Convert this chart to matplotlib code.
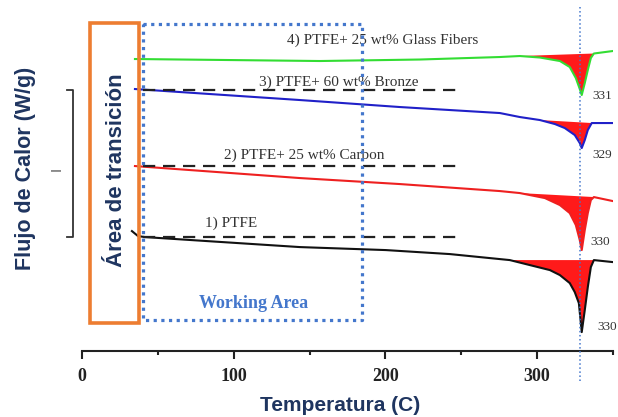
import matplotlib.pyplot as plt
import numpy as np

# temperatura (C) y flujo de calor (unidades arbitrarias, curvas desplazadas)
temp_glass = [34.9, 156.8, 222.7, 275.4, 288.6, 301.8, 315.0, 321.5, 325.5, 328.1, 329.4, 331.4, 333.4, 335.4, 337.4, 349.9]
flujo_glass = [29.2, 29.0, 29.15, 29.4, 29.5, 29.35, 29.0, 28.4, 27.3, 26.2, 25.6, 26.8, 28.1, 29.3, 29.75, 30.0]

temp_bronze = [34.9, 143.6, 209.5, 275.4, 288.6, 301.8, 311.7, 318.2, 324.8, 328.1, 329.4, 331.4, 333.4, 336.0, 349.9]
flujo_bronze = [26.2, 25.1, 24.4, 23.8, 23.4, 23.1, 22.7, 22.3, 21.6, 20.8, 20.3, 21.1, 22.1, 22.8, 22.8]

temp_carbon = [34.9, 143.6, 209.5, 275.4, 288.6, 305.1, 315.0, 321.5, 325.5, 328.1, 329.4, 331.4, 333.4, 335.4, 337.4, 349.9]
flujo_carbon = [18.5, 17.3, 16.7, 16.0, 15.8, 15.3, 14.6, 13.8, 12.6, 11.1, 10.1, 12.1, 13.8, 15.1, 15.4, 15.0]

temp_ptfe = [32.9, 36.9, 41.5, 143.6, 200.3, 242.5, 268.8, 282.0, 295.2, 308.4, 315.0, 321.5, 324.8, 327.5,
             329.4, 331.4, 333.4, 335.4, 337.4, 349.9]
flujo_ptfe = [12.0, 11.5, 11.4, 10.4, 10.1, 9.7, 9.3, 9.1, 8.6, 8.1, 7.6, 6.8, 5.9, 4.8,
              1.9, 4.1, 6.4, 8.4, 9.1, 8.9]

nombres = ['4) PTFE+ 25 wt% Glass Fibers', '3) PTFE+ 60 wt% Bronze',
           '2) PTFE+ 25 wt% Carbon', '1) PTFE']
picos = ['331', '329', '330', '330']
# rango de temperatura del area del pico (relleno rojo)
rango_pico = [(285, 338), (300, 337), (285, 338), (280, 338)]
# lineas de referencia discontinuas
ref_y = [26.1, 18.5, 11.4]
ref_x = [40, 247]

# posiciones de textos (en coordenadas de datos)
pos_nombres = [(198, 31.1), (169, 26.9), (146.3, 19.6), (98.5, 12.8)]
pos_picos = [(342.6, 25.5), (342.6, 19.6), (341.3, 10.9), (346, 2.4)]

series = [(temp_glass, flujo_glass, '#33dd33'),
          (temp_bronze, flujo_bronze, '#2020c8'),
          (temp_carbon, flujo_carbon, '#ee2020'),
          (temp_ptfe, flujo_ptfe, '#111111')]

navy = '#1f3560'
azul = '#4477cc'

fig = plt.figure(figsize=(6.18, 4.17), dpi=100)
ax = fig.add_axes([0.1327, 0.158, 0.8592, 0.842])

for (t, f, c), (t0, t1) in zip(series, rango_pico):
    t = np.array(t)
    f = np.array(f)
    m = (t >= t0) & (t <= t1)
    ax.fill(t[m], f[m], color='#ff1a1a', lw=0, zorder=2)
    ax.plot(t, f, color=c, lw=1.5, zorder=3)

for y in ref_y:
    ax.plot(ref_x, [y, y], color='#222222', lw=1.6, dashes=(5.5, 3.5), zorder=3)

for txt, (x, y) in zip(nombres, pos_nombres):
    ax.text(x, y, txt, family='Liberation Serif', fontsize=11, color='#333333',
            ha='center', va='center', zorder=4)
for txt, (x, y) in zip(picos, pos_picos):
    ax.text(x, y, txt, family='Liberation Serif', fontsize=9.5, color='#333333',
            ha='center', va='center', zorder=4)

# area de transicion (naranja) y area de trabajo (azul punteado)
ax.add_patch(plt.Rectangle((5.3, 2.8), 32.3, 30.0, fill=False, ec='#ed7d31', lw=2.6, zorder=5))
ax.plot([40.3, 184.5, 184.5, 40.3, 40.3], [32.7, 32.7, 3.1, 3.1, 32.7], color=azul,
        lw=2.3, ls=(0, (1, 1.4)), dash_capstyle='butt', zorder=5)
ax.text(113.3, 4.8, 'Working Area', family='Liberation Serif', fontweight='bold',
        fontsize=13, color=azul, ha='center', va='center')

# linea vertical de la temperatura de fusion
ax.plot([328.1, 328.1], [34.4, -3.2], color=azul, lw=1.1, ls=':', clip_on=False, zorder=5)

# barra de escala
ax.plot([-9.9, -5.9, -5.9, -9.9], [26.1, 26.1, 11.4, 11.4], color='#333333', lw=1.3, clip_on=False)
ax.text(-16.5, 18.2, 'I', rotation=90, fontsize=10, color='#555555', ha='center', va='center')

ax.set_xlim(0, 350)
ax.set_ylim(0, 35.1)
for s in ['top', 'right', 'left']:
    ax.spines[s].set_visible(False)
ax.spines['bottom'].set_linewidth(1.5)
ax.spines['bottom'].set_color('#222222')
ax.set_yticks([])
ax.set_xticks([0, 100, 200, 300])
ax.set_xticks([50, 150, 250, 350], minor=True)
ax.tick_params(axis='x', which='major', length=6, width=1.5, pad=6, colors='#222222')
ax.tick_params(axis='x', which='minor', length=3, width=1.5, colors='#222222')
for lbl in ax.get_xticklabels():
    lbl.set_family('Liberation Serif')
    lbl.set_fontweight('bold')
    lbl.set_fontsize(13)

fig.text(0.55, 0.028, 'Temperatura (C)', family='Liberation Sans', fontweight='bold',
         fontsize=15, color=navy, ha='center', va='center')
fig.text(0.042, 0.597, 'Flujo de Calor (W/g)', family='Liberation Sans', fontweight='bold',
         fontsize=15.5, color=navy, rotation=90, ha='center', va='center')
fig.text(0.188, 0.592, 'Área de transición', family='Liberation Sans', fontweight='bold',
         fontsize=16, color=navy, rotation=90, ha='center', va='center')

fig.savefig('out.png', dpi=100)
